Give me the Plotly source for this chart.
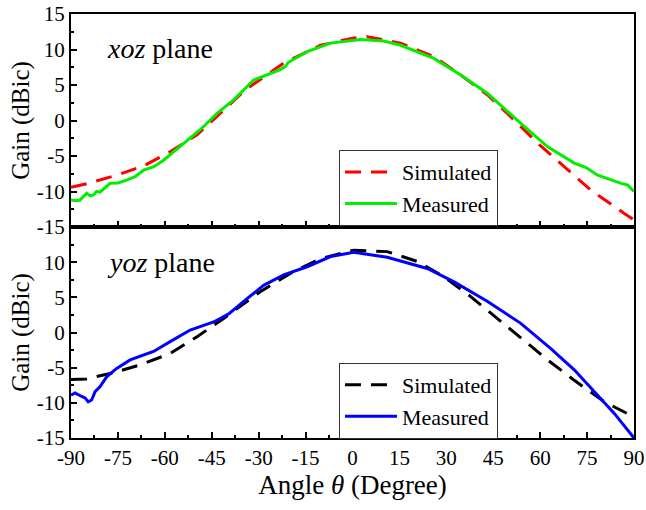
import plotly.graph_objects as go

# ---- data ----
xoz_sim_theta = [-90, -85, -75.4, -66.8, -58.3, -49.7, -42.3, -34.3, -22.1, -10.2, -7.0, 0, 4.7, 15.4, 26.0, 34.6, 43.2, 51.7, 59.2, 67.7, 76.2, 86.9, 90]
xoz_sim_gain = [-9.4, -8.9, -7.7, -6.4, -4.4, -2.0, 1.0, 4.3, 8.05, 10.6, 10.9, 11.6, 11.8, 10.9, 9.0, 6.4, 3.6, 0.07, -3.2, -6.5, -9.8, -13.1, -14.0]

xoz_mea_theta = [-90, -88.5, -87.1, -85, -83.9, -82.9, -81.8, -80.7, -77.5, -75, -72.2, -69.5, -66.8, -63.5, -60.4, -55.1, -48.7, -43.3, -38.0, -31.6, -23.5, -21.5, -20.5, -14.5, -7.0, 2.6, 10, 15.4, 26.0, 34.6, 43.2, 53.8, 62.4, 70.9, 74.5, 78.4, 82, 85.9, 88, 90]
xoz_mea_gain = [-11.2, -11.3, -11.2, -10.25, -10.6, -10.5, -10.0, -10.1, -8.85, -8.8, -8.4, -7.9, -7.0, -6.5, -5.6, -3.7, -1.3, 1.0, 2.9, 5.7, 7.1, 7.6, 8.2, 9.7, 10.9, 11.4, 11.2, 10.6, 8.75, 6.4, 3.8, -0.4, -3.7, -6.0, -6.6, -7.7, -8.3, -8.85, -9.1, -10.0]

yoz_sim_theta = [-90, -85.0, -75.4, -67.9, -58.3, -49.7, -41.2, -29.5, -19.9, -10.2, 0.4, 11.1, 20.7, 29.3, 37.8, 46.4, 53.8, 62.4, 70.9, 80.5, 90]
yoz_sim_gain = [-6.7, -6.6, -5.6, -4.6, -3.0, -0.6, 2.0, 5.8, 8.4, 10.5, 11.7, 11.5, 10.1, 7.9, 5.1, 2.0, -0.8, -3.9, -6.8, -9.85, -12.0]

yoz_mea_theta = [-90, -88.7, -86.6, -85.5, -84.5, -83.4, -82.3, -80.7, -78.6, -75.4, -71.1, -67.9, -63.6, -58.3, -51.9, -44.4, -39.4, -34.3, -28.4, -22.0, -14.5, -7.0, 0.4, 11.1, 23.9, 32.5, 43.2, 53.8, 63.4, 70.9, 77.3, 83.7, 90]
yoz_mea_gain = [-8.9, -8.6, -9.1, -9.3, -9.85, -9.6, -8.4, -7.7, -6.3, -5.1, -3.9, -3.4, -2.7, -1.3, 0.35, 1.5, 2.7, 4.6, 6.7, 8.2, 9.35, 10.8, 11.4, 10.7, 9.1, 7.2, 4.4, 1.3, -2.3, -5.3, -8.4, -11.5, -15.0]

x_ticks = [-90, -75, -60, -45, -30, -15, 0, 15, 30, 45, 60, 75, 90]
x_tick_labels = ["-90", "-75", "-60", "-45", "-30", "-15", "0", "15", "30", "45", "60", "75", "90"]
y_ticks_top = [-15, -10, -5, 0, 5, 10, 15]
y_tick_labels_top = ["-15", "-10", "-5", "0", "5", "10", "15"]
y_ticks_bottom = [-15, -10, -5, 0, 5, 10]
y_tick_labels_bottom = ["-15", "-10", "-5", "0", "5", "10"]

FONT = "Liberation Serif"

fig = go.Figure()
fig.add_trace(go.Scatter(x=xoz_sim_theta, y=xoz_sim_gain, mode="lines", name="Simulated",
                         line=dict(color="#ff0000", width=3, dash="16px,10px"), xaxis="x", yaxis="y", legend="legend"))
fig.add_trace(go.Scatter(x=xoz_mea_theta, y=xoz_mea_gain, mode="lines", name="Measured",
                         line=dict(color="#00ee00", width=3), xaxis="x", yaxis="y", legend="legend"))
fig.add_trace(go.Scatter(x=yoz_sim_theta, y=yoz_sim_gain, mode="lines", name="Simulated",
                         line=dict(color="#000000", width=3, dash="16px,10px"), xaxis="x2", yaxis="y2", legend="legend2"))
fig.add_trace(go.Scatter(x=yoz_mea_theta, y=yoz_mea_gain, mode="lines", name="Measured",
                         line=dict(color="#0000ff", width=3), xaxis="x2", yaxis="y2", legend="legend2"))

split = 211 / 424

common_x = dict(range=[-90, 90], tickvals=x_ticks, ticktext=x_tick_labels, ticks="inside", ticklen=6, tickwidth=2,
                tickcolor="black", showline=True, linewidth=2, linecolor="black", mirror=True,
                showgrid=False, zeroline=False, automargin=False,
                minor=dict(ticks="inside", ticklen=3, tickwidth=2, tickcolor="black", dtick=7.5, tick0=-90),
                tickfont=dict(family=FONT, size=21, color="black"))
common_y = dict(range=[-15, 15], ticks="inside", ticklen=6, tickwidth=2,
                tickcolor="black", showline=True, linewidth=2, linecolor="black", mirror=True,
                showgrid=False, zeroline=False, automargin=False,
                minor=dict(ticks="inside", ticklen=3, tickwidth=2, tickcolor="black", dtick=2.5, tick0=-15),
                tickfont=dict(family=FONT, size=21, color="black"),
                title=dict(text="Gain (dBic)", font=dict(family=FONT, size=25, color="black"), standoff=0))

legend_font = dict(family=FONT, size=22, color="black")

fig.update_layout(
    width=646, height=510,
    margin=dict(l=71, r=12, t=14, b=72, autoexpand=False),
    paper_bgcolor="white", plot_bgcolor="white",
    xaxis=dict(common_x, domain=[0, 1], anchor="y", showticklabels=False),
    yaxis=dict(common_y, tickvals=y_ticks_top, ticktext=y_tick_labels_top, domain=[split, 1], anchor="x"),
    xaxis2=dict(common_x, domain=[0, 1], anchor="y2",
                title=dict(text="Angle <i>θ</i> (Degree)", font=dict(family=FONT, size=27, color="black"), standoff=0)),
    yaxis2=dict(common_y, tickvals=y_ticks_bottom, ticktext=y_tick_labels_bottom, domain=[0, split], anchor="x2"),
    legend=dict(x=0.476, y=0.679, xanchor="left", yanchor="top", bordercolor="#333", borderwidth=1,
                bgcolor="white", font=legend_font, tracegroupgap=0, itemwidth=52),
    legend2=dict(x=0.476, y=0.177, xanchor="left", yanchor="top", bordercolor="#333", borderwidth=1,
                 bgcolor="white", font=legend_font, tracegroupgap=0, itemwidth=52),
    showlegend=True,
    annotations=[
        dict(text="<i>xoz</i> plane", xref="paper", yref="paper", x=(105 - 71) / 563, y=1 - (48 - 14) / 424,
             xanchor="left", yanchor="middle", showarrow=False, font=dict(family=FONT, size=28, color="black")),
        dict(text="<i>yoz</i> plane", xref="paper", yref="paper", x=(105 - 71) / 563, y=1 - (262 - 14) / 424,
             xanchor="left", yanchor="middle", showarrow=False, font=dict(family=FONT, size=28, color="black")),
    ],
)

fig.write_html("out.html", config={"displayModeBar": False},
               post_script="document.body.style.margin='0';")
